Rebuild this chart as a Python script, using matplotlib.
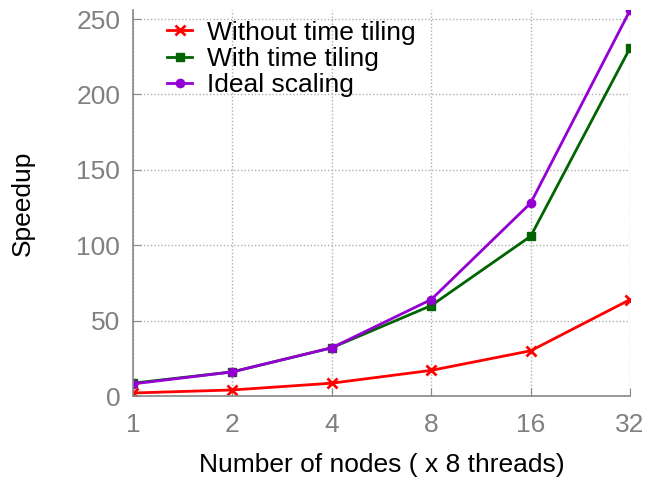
import matplotlib
matplotlib.use("Agg")
import matplotlib.pyplot as plt

plt.rcParams['font.family'] = ['Liberation Sans', 'DejaVu Sans']

nodes = ["1", "2", "4", "8", "16", "32"]
without_tiling = [2, 4, 8.5, 17, 30, 64]
with_tiling = [8.5, 16, 32, 60, 106, 231]
ideal = [8, 16, 32, 64, 128, 256]

fig = plt.figure(figsize=(6.45, 4.8), dpi=100)
ax = fig.add_axes([0.206, 0.175, 0.771, 0.804])

x = list(range(len(nodes)))
ax.plot(x, without_tiling, color="#ff0000", marker="x", markersize=7, mew=2, lw=2, label="Without time tiling")
ax.plot(x, with_tiling, color="#006400", marker="s", markersize=6, lw=2, label="With time tiling")
ax.plot(x, ideal, color="#9400d3", marker="o", markersize=6, lw=2, label="Ideal scaling")

ax.set_xlim(0, len(nodes) - 1)
ax.set_ylim(0, 256)
ax.set_xticks(x)
ax.set_xticklabels(nodes)
ax.set_yticks([0, 50, 100, 150, 200, 250])

ax.grid(True, color="#b0b0b0", linestyle=(0, (1, 1.5)), linewidth=1)
ax.set_axisbelow(True)
for s in ["top", "right"]:
    ax.spines[s].set_visible(False)
for s in ["left", "bottom"]:
    ax.spines[s].set_color("#888888")
    ax.spines[s].set_linewidth(1.2)
ax.tick_params(direction="in", length=6, colors="#888888", labelsize=19, labelcolor="#808080", pad=9)
ax.tick_params(axis="x", pad=12)

ax.set_xlabel("Number of nodes ( x 8 threads)", fontsize=19, labelpad=12)
ax.set_ylabel("Speedup", fontsize=19, labelpad=30)

ax.legend(loc="upper left", bbox_to_anchor=(0.048, 1.0), frameon=False, fontsize=19,
          handlelength=0.95, handletextpad=0.55, labelspacing=0.08, borderaxespad=0)

fig.savefig("out.png", dpi=100)
